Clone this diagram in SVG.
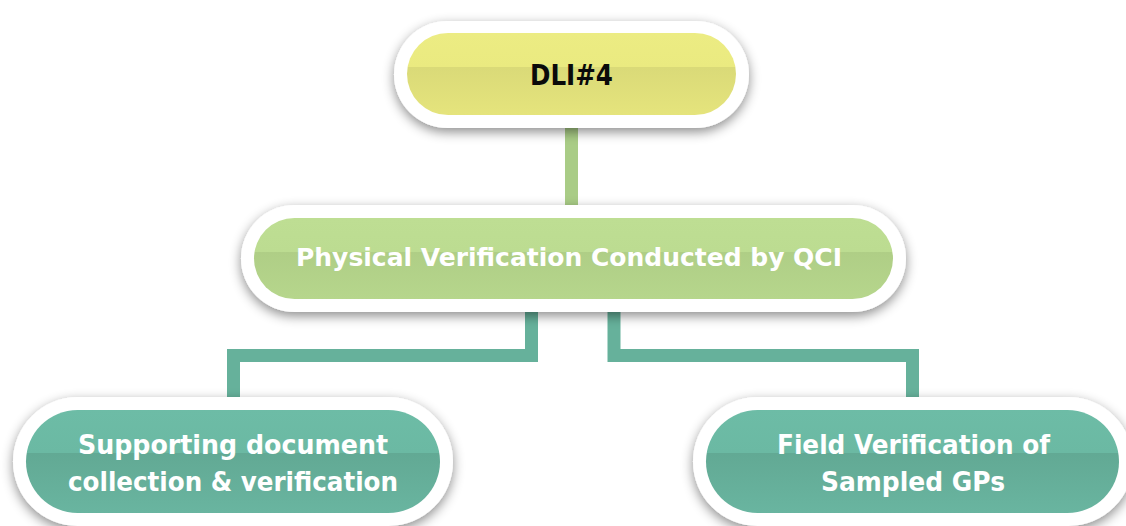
<svg xmlns="http://www.w3.org/2000/svg" width="1126" height="526" viewBox="0 0 1126 526">
  <defs>
    <filter id="shadow" x="-20%" y="-40%" width="140%" height="180%">
      <feDropShadow dx="0" dy="4" stdDeviation="6" flood-color="#000" flood-opacity="0.45"/>
    </filter>
    <linearGradient id="gYellow" x1="0" y1="0" x2="0" y2="1">
      <stop offset="0" stop-color="#ECEC83"/>
      <stop offset="0.42" stop-color="#EAEA80"/>
      <stop offset="0.42" stop-color="#DADA78"/>
      <stop offset="1" stop-color="#E5E47C"/>
    </linearGradient>
    <linearGradient id="gGreen" x1="0" y1="0" x2="0" y2="1">
      <stop offset="0" stop-color="#BEDE93"/>
      <stop offset="0.42" stop-color="#BCDC91"/>
      <stop offset="0.42" stop-color="#AFCE86"/>
      <stop offset="1" stop-color="#B6D68C"/>
    </linearGradient>
    <linearGradient id="gTeal" x1="0" y1="0" x2="0" y2="1">
      <stop offset="0" stop-color="#6DBCA6"/>
      <stop offset="0.42" stop-color="#6BB9A3"/>
      <stop offset="0.42" stop-color="#62A994"/>
      <stop offset="1" stop-color="#69B5A0"/>
    </linearGradient>
  </defs>
  <style>
    .outer { fill: #FFFFFF; filter: url(#shadow); }
    .conn { fill: none; stroke-width: 13; stroke-linejoin: miter; stroke-linecap: butt; }
    .lbl { font-family: "DejaVu Sans", "Open Sans", sans-serif; font-weight: 700; text-anchor: middle; }
    .white { fill: #FFFFFF; }
    .dark { fill: #0A0A0A; }
  </style>

  <g id="connectors">
    <path class="conn" stroke="#A9CC86" d="M571.5,120 V212"/>
    <path class="conn" stroke="#66B19B" d="M531.5,305 V355.5 H233.5 V405"/>
    <path class="conn" stroke="#66B19B" d="M614,305 V355.5 H912.5 V405"/>
  </g>

  <g id="node-dli4">
    <rect class="outer" x="394" y="21" width="355" height="107" rx="53.5" ry="53.5"/>
    <rect x="407" y="33" width="329" height="82" rx="41" ry="41" fill="url(#gYellow)"/>
    <text class="lbl dark" x="571.5" y="85" font-size="28" textLength="83" lengthAdjust="spacingAndGlyphs">DLI#4</text>
  </g>

  <g id="node-physical">
    <rect class="outer" x="241" y="205" width="665" height="107" rx="53.5" ry="53.5"/>
    <rect x="254" y="218" width="639" height="81" rx="40.5" ry="40.5" fill="url(#gGreen)"/>
    <text class="lbl white" x="569" y="266" font-size="25" textLength="546" lengthAdjust="spacingAndGlyphs">Physical Verification Conducted by QCI</text>
  </g>

  <g id="node-supporting">
    <rect class="outer" x="13" y="397" width="440" height="129" rx="64.5" ry="64.5"/>
    <rect x="26" y="410" width="414" height="103" rx="51.5" ry="51.5" fill="url(#gTeal)"/>
    <text class="lbl white" x="233" y="454" font-size="26" textLength="310" lengthAdjust="spacingAndGlyphs">Supporting document</text>
    <text class="lbl white" x="233" y="491" font-size="26" textLength="330" lengthAdjust="spacingAndGlyphs">collection &amp; verification</text>
  </g>

  <g id="node-field">
    <rect class="outer" x="693" y="397" width="440" height="129" rx="64.5" ry="64.5"/>
    <rect x="706" y="410" width="413" height="103" rx="51.5" ry="51.5" fill="url(#gTeal)"/>
    <text class="lbl white" x="913.5" y="454" font-size="26" textLength="273" lengthAdjust="spacingAndGlyphs">Field Verification of</text>
    <text class="lbl white" x="913" y="491" font-size="26" textLength="184" lengthAdjust="spacingAndGlyphs">Sampled GPs</text>
  </g>
</svg>
